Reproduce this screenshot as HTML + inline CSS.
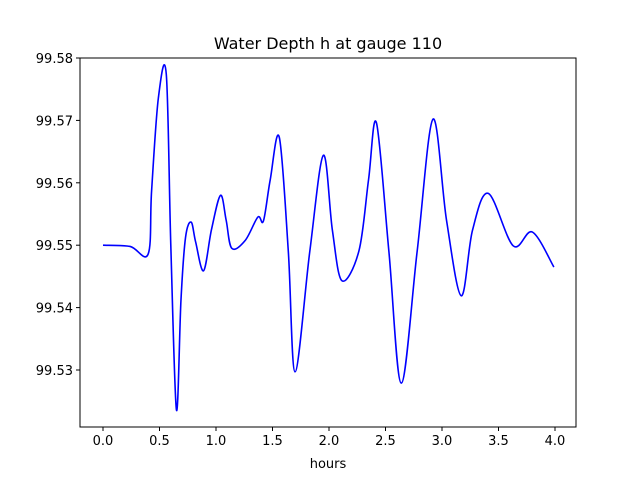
<!DOCTYPE html>
<html><head><meta charset="utf-8"><style>
body{margin:0;background:#fff;font-family:"Liberation Sans",sans-serif}
svg text{font-family:"DejaVu Sans","Liberation Sans",sans-serif;font-size:13px;fill:#000}
</style></head><body>
<svg width="640" height="480" id="c">
<rect width="640" height="480" fill="#fff"/>
<text x="328" y="49" text-anchor="middle" style="font-size:16px">Water Depth h at gauge 110</text>
<text x="328" y="468" text-anchor="middle">hours</text>
</svg>
<script>
const hours=[0,0.24,0.40,0.43,0.49,0.56,0.60,0.65,0.69,0.73,0.78,0.82,0.89,0.96,1.04,1.09,1.14,1.26,1.37,1.42,1.48,1.56,1.64,1.70,1.83,1.95,2.03,2.115,2.265,2.35,2.42,2.53,2.64,2.78,2.92,3.04,3.17,3.27,3.41,3.63,3.80,3.99];
const depth=[99.55,99.5498,99.5486,99.5587,99.5736,99.5774,99.550,99.5236,99.5412,99.5512,99.5537,99.5505,99.5459,99.5525,99.5580,99.5540,99.5495,99.5508,99.5545,99.5539,99.5605,99.5673,99.549,99.5297,99.549,99.5644,99.5524,99.5443,99.5491,99.5605,99.5696,99.549,99.5279,99.549,99.5702,99.554,99.5419,99.5524,99.5583,99.5499,99.5521,99.5465];
const xTicks=[0,0.5,1,1.5,2,2.5,3,3.5,4];
const yTicks=[99.53,99.54,99.55,99.56,99.57,99.58];
const svg=document.getElementById('c'),NS='http://www.w3.org/2000/svg';
const L=80,R=576,T=58,B=427;
const xs=h=>103+h*113;
const ys=v=>58+(99.58-v)*6240;
function mk(t,a){const e=document.createElementNS(NS,t);for(const k in a)e.setAttribute(k,a[k]);svg.appendChild(e);return e;}
xTicks.forEach(t=>{const x=xs(t);
const l=mk('line',{x1:x,x2:x,y1:B,y2:B+4,stroke:'#000'});


const tx=mk('text',{x:x,y:B+18,'text-anchor':'middle'});tx.textContent=t.toFixed(1);

});
yTicks.forEach(t=>{const y=ys(t);
const l=mk('line',{x1:L-4,x2:L,y1:y,y2:y,stroke:'#000'});


const tx=mk('text',{x:L-7,y:y+5,'text-anchor':'end'});tx.textContent=t.toFixed(2);

});
const P=hours.map((h,i)=>[xs(h),ys(depth[i])]);
let d='M'+P[0][0]+','+P[0][1];
for(let i=0;i<P.length-1;i++){const p0=P[i-1]||P[i],p1=P[i],p2=P[i+1],p3=P[i+2]||P[i+1];
d+=' C'+(p1[0]+(p2[0]-p0[0])/6)+','+(p1[1]+(p2[1]-p0[1])/6)+' '+(p2[0]-(p3[0]-p1[0])/6)+','+(p2[1]-(p3[1]-p1[1])/6)+' '+p2[0]+','+p2[1];}
const line=mk('path',{d:d,fill:'none',stroke:'#0000ff','stroke-width':1.6});


const fr=mk('rect',{x:L,y:T,width:R-L,height:B-T,fill:'none',stroke:'#000','stroke-width':1});


</script>
</body></html>
